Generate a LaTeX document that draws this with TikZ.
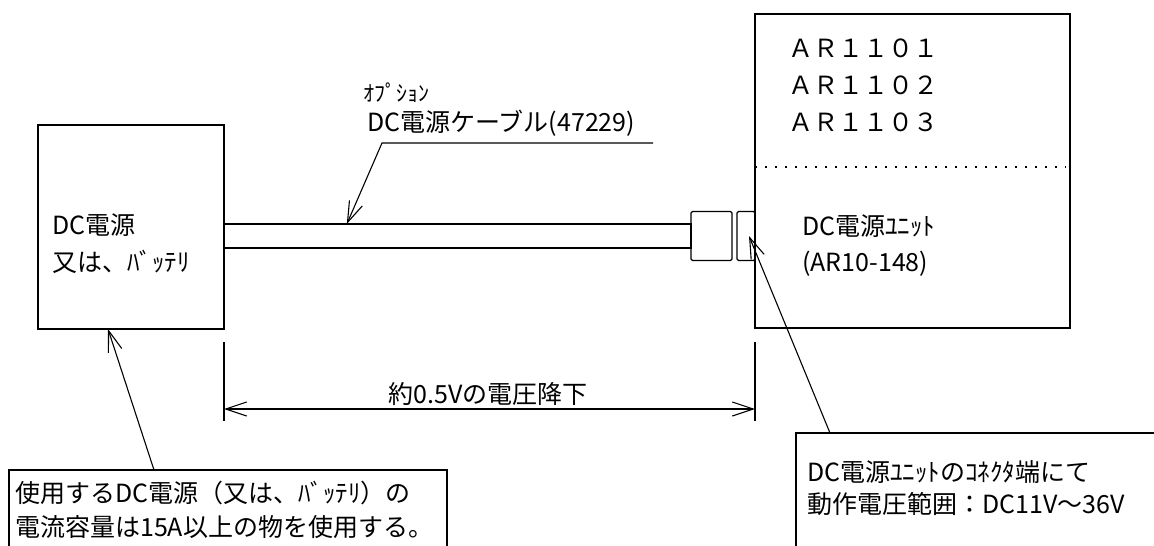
\documentclass[tikz,border=0pt]{standalone}
\usepackage{fontspec}
\setmainfont{Noto Sans CJK JP}
\usetikzlibrary{arrows.meta, positioning, calc}

\begin{document}
\begin{tikzpicture}[
  x=1pt, y=-1pt,
  box/.style={
    rectangle,
    draw,
    line width=1.5pt,
    outer sep=0pt,
    inner sep=0pt
  },
  plugbox/.style={box, rounded corners=1.5pt, line width=1.3pt},
  lbl/.style={inner sep=0pt, align=left, font=\fontsize{25}{37}\selectfont},
  lead/.style={line width=1.1pt, -{Straight Barb[length=21pt,width=14pt]}},
  dimline/.style={line width=1.1pt, {Straight Barb[length=21pt,width=14pt]}-{Straight Barb[length=21pt,width=14pt]}},
  divider/.style={line width=1.2pt, dash pattern=on 2pt off 8pt}
]
\useasboundingbox (0,0) rectangle (1154,546);

% Boxes (power source, cable, connector, unit)
\node[box, minimum width=186pt, minimum height=204pt] (src) at (131,227) {};
\node[box, minimum width=467pt, minimum height=24pt] (cable) at (457.5,236) {};
\node[plugbox, minimum width=41pt, minimum height=49pt, right=0pt of cable] (plug) {};
\node[plugbox, minimum width=18pt, minimum height=49pt, right=5pt of plug] (socket) {};
\node[box, minimum width=315pt, minimum height=314pt] (unit) at (912.5,171) {};

% Dotted divider in the unit
\coordinate (sep) at (0,167);
\draw[divider] (unit.west |- sep) -- ([xshift=-4pt]unit.east |- sep);

% Texts in the boxes
\node[lbl, anchor=west] (srcname) at (52,243.5) {DC電源\\又は、ﾊﾞｯﾃﾘ};
\node[lbl, anchor=west] (models) at (788,85.5) {ＡＲ１１０１\\ＡＲ１１０２\\ＡＲ１１０３};
\node[lbl, anchor=west, font=\fontsize{25}{36}\selectfont] (unitname) at (802,246) {DC電源ﾕﾆｯﾄ\\(AR10-148)};

% Cable label and leader
\node[lbl, anchor=west, font=\fontsize{22}{26}\selectfont] (option) at (363,93) {ｵﾌﾟｼｮﾝ};
\node[lbl, anchor=west] (cablename) at (367,123) {DC電源ケーブル(47229)};
\coordinate (cabshelf) at (653,143);
\coordinate (cabknee) at (382,143);
\draw[lead] (cabshelf) -- (cabknee) -- ($(cable.north west)!0.263!(cable.north east)$);

% Voltage drop dimension
\coordinate (dimLtop) at ($(src.south east)+(0,13)$);
\coordinate (dimRtop) at ($(unit.south west)+(0,14)$);
\coordinate (dimL) at ($(dimLtop)+(0,67)$);
\coordinate (dimR) at ($(dimRtop)+(0,67)$);
\draw[line width=1.1pt] (dimLtop) -- ++(0,79);
\draw[line width=1.1pt] (dimRtop) -- ++(0,79);
\draw[dimline] (dimL) -- (dimR);
\node[lbl, anchor=base] (drop) at (488,403) {約0.5Vの電圧降下};

% Notes (boxes run past the page edge)
\node[box, minimum width=438pt, minimum height=100pt, anchor=north west] (note1) at (9,470) {};
\node[lbl, anchor=west, font=\fontsize{25}{34}\selectfont] (note1txt) at (15,510) {使用するDC電源（又は、ﾊﾞｯﾃﾘ）の\\電流容量は15A以上の物を使用する。};
\node[box, minimum width=400pt, minimum height=150pt, anchor=north west] (note2) at (796,433) {};
\node[lbl, anchor=west, font=\fontsize{25}{32}\selectfont] (note2txt) at (807,488) {DC電源ﾕﾆｯﾄのｺﾈｸﾀ端にて\\動作電圧範囲：DC11V～36V};

% Leaders
\draw[lead] ($(note1.north west)+(145,0)$) -- ($(src.south west)+(70,0)$);
\draw[lead] ($(note2.north west)+(34,0)$) -- ($(socket.center)+(3,0)$);

\end{tikzpicture}
\end{document}
